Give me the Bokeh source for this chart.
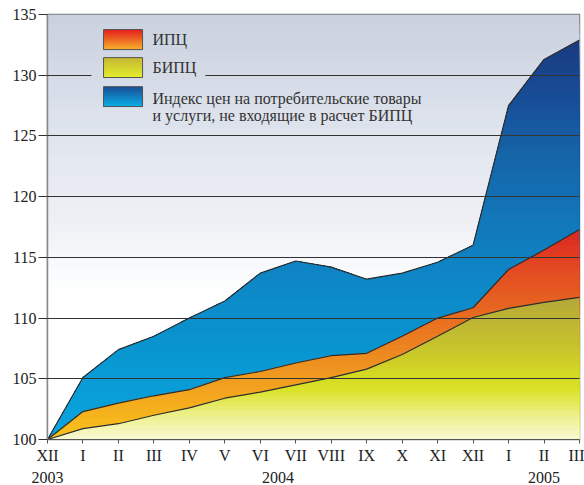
from bokeh.plotting import figure
from bokeh.models import Range1d, FixedTicker, LinearAxis, Label
from bokeh.embed import file_html
from bokeh.resources import INLINE

# ---------------- data ----------------
months = ["XII", "I", "II", "III", "IV", "V", "VI", "VII", "VIII", "IX", "X", "XI", "XII", "I", "II", "III"]
years = ["2003", "2004", "2005"]
year_pos = [0, 6.5, 14]
y_ticks = [100, 105, 110, 115, 120, 125, 130, 135]

ipc = [100, 102.3, 103.0, 103.6, 104.1, 105.1, 105.6, 106.3, 106.9, 107.1, 108.5, 110.0, 110.85, 114.0, 115.6, 117.3]
bipc = [100, 100.9, 101.3, 102.0, 102.6, 103.4, 103.9, 104.5, 105.1, 105.8, 107.0, 108.5, 110.05, 110.8, 111.3, 111.7]
other = [100, 105.1, 107.4, 108.5, 110.0, 111.4, 113.7, 114.7, 114.2, 113.2, 113.7, 114.6, 116.0, 127.5, 131.3, 132.9]

legend_labels = ["ИПЦ", "БИПЦ", "Индекс цен на потребительские товары", "и услуги, не входящие в расчет БИПЦ"]

x = list(range(len(months)))

# ---------------- styles ----------------
FONT = "Liberation Serif"
blue_stops = [(0, "#0aa6df"), (0.2, "#0898d2"), (0.45, "#0f82c2"), (0.7, "#1566aa"), (0.85, "#174e98"), (1, "#1a3a80")]
orange_stops = [(0, "#f9c41a"), (0.3, "#f09a20"), (0.6, "#e86a20"), (0.8, "#e34c22"), (1, "#dc2620")]
yellow_stops = [(0, "#f9f9d4"), (0.17, "#edf08a"), (0.35, "#dbe22a"), (0.45, "#d4da22"), (0.6, "#cac82a"),
                (0.8, "#bfb832"), (1, "#b5a83a")]
bg_stops = [(0, "#ffffff"), (0.34, "#ffffff"), (0.51, "#eef0f5"), (0.71, "#e0e5ee"), (1, "#c9d1df")]
sw_ipc = [(0, "#f7b22a"), (1, "#e41d1d")]
sw_bipc = [(0, "#e3ee2a"), (1, "#c5b634")]
sw_blue = [(0, "#0aaee6"), (1, "#1a4d94")]


def hex_to_rgb(h):
    return tuple(int(h[i:i + 2], 16) for i in (1, 3, 5))


def grad_color(stops, t):
    t = min(max(t, 0.0), 1.0)
    for (t0, c0), (t1, c1) in zip(stops[:-1], stops[1:]):
        if t <= t1:
            f = 0 if t1 == t0 else (t - t0) / (t1 - t0)
            a, b = hex_to_rgb(c0), hex_to_rgb(c1)
            return "#%02x%02x%02x" % tuple(round(a[i] + (b[i] - a[i]) * f) for i in range(3))
    return stops[-1][1]


def clip_top(xs, ys, b):
    ox, oy = [], []
    for i in range(len(xs)):
        if i > 0:
            y0, y1 = ys[i - 1], ys[i]
            if (y0 - b) * (y1 - b) < 0:
                t = (b - y0) / (y1 - y0)
                ox.append(xs[i - 1] + t * (xs[i] - xs[i - 1]))
                oy.append(b)
        ox.append(xs[i])
        oy.append(min(ys[i], b))
    return ox, oy


ymin, ymax = y_ticks[0], y_ticks[-1]

p = figure(width=584, height=485, x_range=Range1d(x[0], x[-1]), y_range=Range1d(ymin, ymax),
           output_backend="svg", toolbar_location=None,
           min_border_left=47, min_border_right=5, min_border_top=14, min_border_bottom=46)
p.background_fill_color = "white"
p.border_fill_color = "white"
p.outline_line_color = "#7a7a7a"
p.outline_line_width = 1.5

# background gradient
N_BG = 45
tops = [ymin + (ymax - ymin) * k / N_BG for k in range(N_BG, 0, -1)]
bg_cols = [grad_color(bg_stops, (k - 0.5) / N_BG) for k in range(N_BG, 0, -1)]
p.quad(left=x[0], right=x[-1], bottom=ymin, top=tops, fill_color=bg_cols, line_color=None)


def gradient_area(ys, stops, n):
    top = max(ys)
    pxs, pys, cols = [], [], []
    for k in range(n, 0, -1):
        b = ymin + (top - ymin) * k / n
        cx, cy = clip_top(x, ys, b)
        pxs.append(cx + [x[-1], x[0]])
        pys.append(cy + [ymin, ymin])
        cols.append(grad_color(stops, (k - 0.5) / n))
    p.patches(pxs, pys, fill_color=cols, line_color=None)


gradient_area(other, blue_stops, 60)
gradient_area(ipc, orange_stops, 40)
gradient_area(bipc, yellow_stops, 30)

for s in (other, ipc, bipc):
    p.line(x, s, line_color="#2d2d2d", line_width=1.2)

# grid
p.xgrid.visible = False
p.ygrid.ticker = FixedTicker(ticks=y_ticks[1:-1])
p.ygrid.grid_line_color = "#333333"
p.ygrid.grid_line_width = 1
p.ygrid.level = "guide"

# y axis
p.yaxis.ticker = FixedTicker(ticks=y_ticks)
p.yaxis.major_tick_out = 9
p.yaxis.major_tick_in = 0
p.yaxis.minor_tick_line_color = None
p.yaxis.major_tick_line_color = "#333333"
p.yaxis.axis_line_color = "#8a8a8a"
p.yaxis.axis_line_width = 1.5
p.yaxis.major_label_standoff = 2
p.yaxis.major_label_text_font = FONT
p.yaxis.major_label_text_font_size = "16px"
p.yaxis.major_label_text_color = "#222222"

# x axis (months)
p.xaxis.ticker = FixedTicker(ticks=x)
p.xaxis.major_label_overrides = {i: m for i, m in zip(x, months)}
p.xaxis.major_tick_out = 4
p.xaxis.major_tick_in = 0
p.xaxis.minor_tick_line_color = None
p.xaxis.major_tick_line_color = "#555555"
p.xaxis.axis_line_color = "#555555"
p.xaxis.major_label_standoff = 3
p.xaxis.major_label_text_font = FONT
p.xaxis.major_label_text_font_size = "16px"
p.xaxis.major_label_text_color = "#222222"

# year axis
yax = LinearAxis(ticker=FixedTicker(ticks=year_pos),
                 major_label_overrides={k: v for k, v in zip(year_pos, years)})
yax.axis_line_color = None
yax.major_tick_line_color = None
yax.minor_tick_line_color = None
yax.major_tick_out = 0
yax.major_label_standoff = 5
yax.major_label_text_font = FONT
yax.major_label_text_font_size = "16px"
yax.major_label_text_color = "#222222"
p.add_layout(yax, "below")

# ---------------- legend (layout in data units) ----------------
SW_L, SW_R = 1.58, 2.68
TXT_X = 2.96
rows = [(133.76, 132.11, sw_ipc), (131.45, 129.81, sw_bipc), (129.06, 127.42, sw_blue)]
cover_col = grad_color(bg_stops, (130 - ymin) / (ymax - ymin))
p.quad(left=1.24, right=4.45, bottom=129.6, top=130.4, fill_color=cover_col, line_color=None, level="annotation")

NS = 14
for top, bot, st in rows:
    bts = [bot + (top - bot) * k / NS for k in range(NS, 0, -1)]
    cols = [grad_color(st, (k - 0.5) / NS) for k in range(NS, 0, -1)]
    p.quad(left=SW_L, right=SW_R, bottom=bot, top=bts, fill_color=cols, line_color=None, level="annotation")
    p.quad(left=SW_L, right=SW_R, bottom=bot, top=top, fill_color=None, line_color="#555555",
           line_width=1, level="annotation")

text_y = [132.94, 130.63, 128.07, 126.67]
for t, ty in zip(legend_labels, text_y):
    p.add_layout(Label(x=TXT_X, y=ty, text=t, text_font=FONT, text_font_size="16px",
                       text_color="#333333", text_baseline="middle", text_align="left"))

open("out.html", "w").write(file_html(p, INLINE))
